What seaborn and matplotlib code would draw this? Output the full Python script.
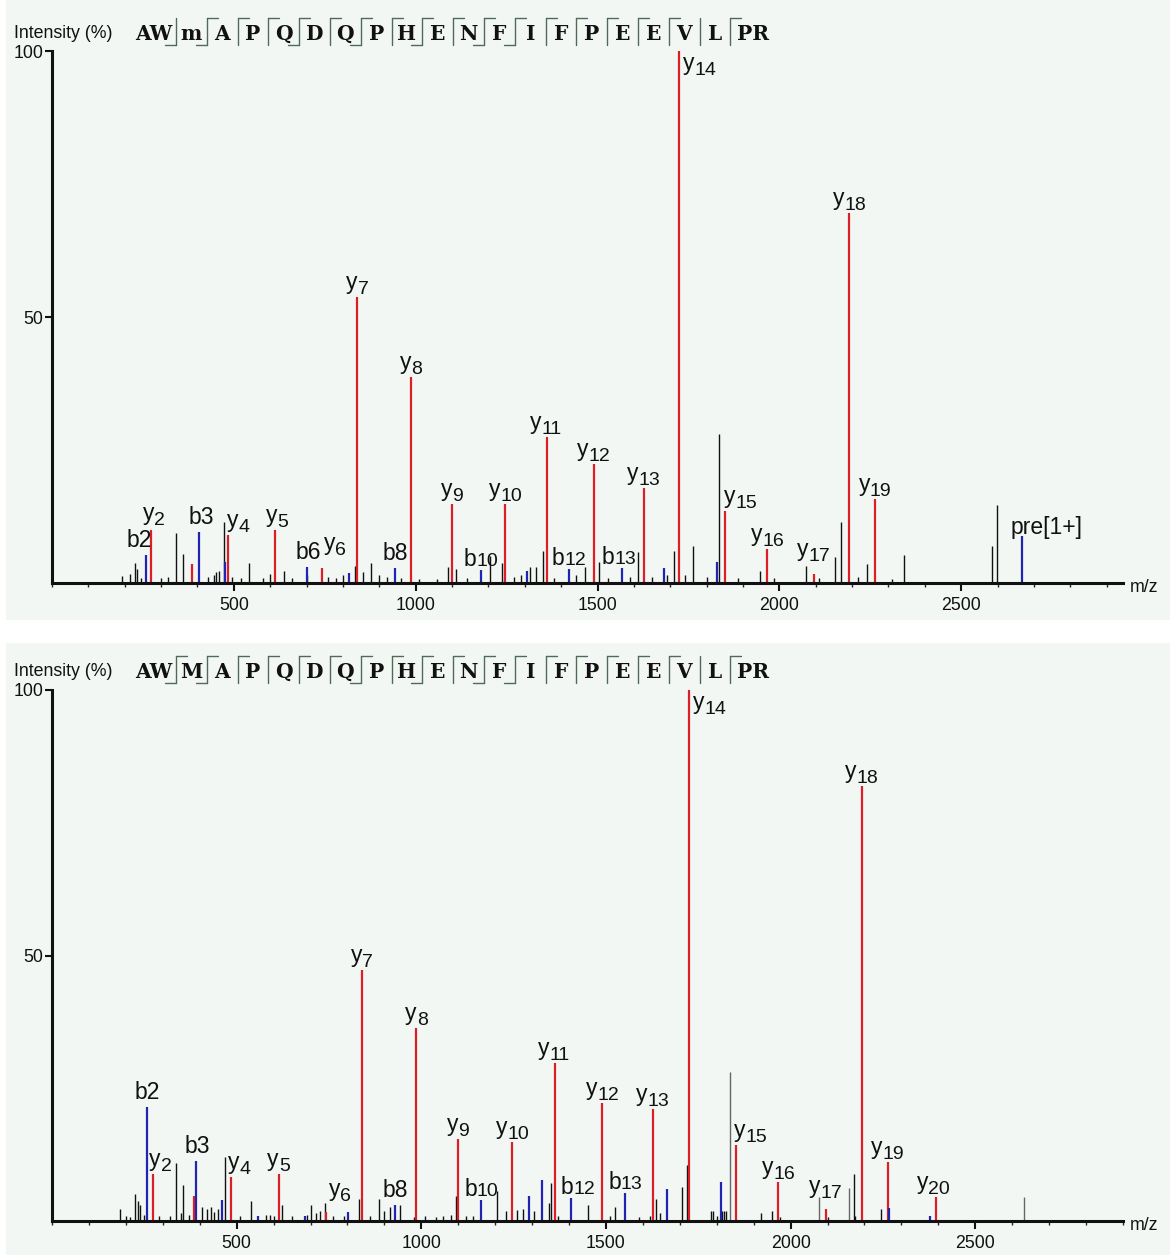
import numpy as np
import pandas as pd
import matplotlib
matplotlib.use("Agg")
import matplotlib.pyplot as plt
import seaborn as sns
from matplotlib.patches import Rectangle
from matplotlib.ticker import MultipleLocator

# ---- top spectrum : AWmAPQDQPHENFIFPEEVLPR (m = oxidised Met) ----
top_seq = ["AW", "m", "A", "P", "Q", "D", "Q", "P", "H", "E", "N", "F", "I", "F",
           "P", "E", "E", "V", "L", "PR"]

top_y_mz = [272.2, 385.3, 484.3, 613.4, 742.4, 839.5, 986.5, 1099.6, 1246.7, 1360.7,
            1489.8, 1626.8, 1723.9, 1851.9, 1967.0, 2095.0, 2192.1, 2263.1]
top_y_int = [10.0, 3.5, 9.0, 10.0, 2.8, 53.8, 38.7, 14.8, 14.8, 27.4,
             22.3, 17.9, 100.0, 13.6, 6.3, 1.6, 69.5, 15.8]
top_y_lab = ["y2", "", "y4", "y5", "y6", "y7", "y8", "y9", "y10", "y11",
             "y12", "y13", "y14", "y15", "y16", "y17", "y18", "y19"]

top_b_mz = [258.1, 405.2, 476.2, 701.3, 816.3, 944.4, 1178.5, 1307.5, 1421.6,
            1568.7, 1681.7, 1828.8, 2667.3]
top_b_int = [5.2, 9.5, 4.0, 3.0, 1.8, 2.9, 2.5, 2.3, 2.7, 2.9, 2.9, 3.9, 8.8]
top_b_lab = ["b2", "b3", "", "b6", "", "b8", "b10", "", "b12", "b13", "", "", "pre[1+]"]

top_other_mz = [193, 215, 228, 235, 245, 300, 320, 341, 361, 430, 445, 452, 458, 473,
                495, 520, 543, 580, 600, 637, 660, 700, 760, 780, 800, 833, 855, 877,
                900, 920, 960, 1010, 1060, 1089, 1110, 1140, 1204, 1238, 1270, 1290,
                1315, 1330, 1350, 1380, 1440, 1467, 1505, 1530, 1590, 1612, 1650, 1690,
                1709, 1740, 1762, 1800, 1833, 1885, 1948, 1985, 2072, 2110, 2152, 2169,
                2215, 2241, 2310, 2343, 2585, 2599]
top_other_int = [1.3, 1.6, 3.7, 2.6, 1.0, 1.0, 1.2, 9.4, 5.4, 1.2, 1.5, 2.0, 2.3, 11.4,
                 1.2, 1.0, 3.7, 1.0, 1.6, 2.3, 1.0, 1.5, 1.2, 1.0, 1.5, 3.2, 2.0, 3.7,
                 1.5, 1.2, 1.0, 0.8, 0.8, 3.0, 2.6, 1.0, 5.0, 3.7, 1.2, 1.5,
                 3.0, 3.0, 6.0, 1.0, 1.5, 3.0, 4.0, 1.0, 1.2, 5.8, 1.2, 1.5,
                 6.1, 1.5, 7.0, 1.2, 28.0, 1.0, 2.2, 1.0, 3.2, 1.0, 4.9, 11.4,
                 1.2, 3.6, 0.8, 5.2, 7.0, 14.7]

# ---- bottom spectrum : AWMAPQDQPHENFIFPEEVLPR ----
bot_seq = ["AW", "M", "A", "P", "Q", "D", "Q", "P", "H", "E", "N", "F", "I", "F",
           "P", "E", "E", "V", "L", "PR"]

bot_y_mz = [272.2, 385.3, 484.3, 613.4, 742.4, 839.5, 986.5, 1099.6, 1246.7, 1360.7,
            1489.8, 1626.8, 1723.9, 1851.9, 1967.0, 2095.0, 2192.1, 2263.1, 2394.2]
bot_y_int = [8.8, 4.7, 8.2, 8.8, 1.7, 47.3, 36.3, 15.5, 14.8, 29.8,
             22.2, 21.0, 100.0, 14.3, 7.3, 2.2, 82.0, 11.2, 4.5]
bot_y_lab = ["y2", "", "y4", "y5", "y6", "y7", "y8", "y9", "y10", "y11",
             "y12", "y13", "y14", "y15", "y16", "y17", "y18", "y19", "y20"]

bot_b_mz = [258.1, 389.2, 460.2, 557.3, 685.3, 800.3, 928.4, 1162.5, 1291.6, 1328.0,
            1405.6, 1552.7, 1665.7, 1812.8, 2266.0, 2377.0]
bot_b_int = [21.5, 11.3, 4.0, 1.0, 1.0, 1.7, 3.0, 4.0, 4.7, 7.8,
             4.4, 5.3, 6.0, 7.3, 2.4, 0.9]
bot_b_lab = ["b2", "b3", "", "", "", "", "b8", "b10", "", "", "b12", "b13", "", "", "", ""]

bot_other_mz = [184, 200, 210, 225, 232, 238, 250, 290, 320, 337, 350, 356, 370, 405,
                420, 430, 440, 450, 469, 510, 539, 580, 590, 600, 622, 650, 690, 700,
                715, 725, 739, 760, 790, 830, 860, 885, 900, 915, 941, 980, 1010, 1040,
                1060, 1080, 1093, 1120, 1140, 1205, 1230, 1260, 1275, 1305, 1345, 1350,
                1370, 1451, 1510, 1524, 1590, 1620, 1635, 1645, 1705, 1719, 1785, 1790,
                1800, 1815, 1820, 1826, 1919, 1949, 1972, 2100, 2171, 2175, 2244]
bot_other_int = [2.2, 1.0, 0.8, 5.0, 3.7, 3.0, 1.2, 1.0, 1.0, 11.0, 1.5, 6.8, 1.2, 2.7,
                 2.2, 2.6, 1.7, 2.2, 12.1, 1.0, 3.7, 1.2, 1.2, 1.0, 3.0, 1.0, 1.2, 3.0,
                 1.5, 1.8, 3.4, 1.0, 1.0, 4.2, 1.0, 4.2, 1.8, 2.6, 3.0, 0.8, 1.0, 0.8,
                 1.0, 1.2, 4.7, 1.0, 1.0, 5.7, 1.8, 2.0, 2.3, 1.8, 3.4, 7.2,
                 1.0, 3.0, 1.0, 2.7, 0.8, 1.0, 4.1, 1.5, 6.4, 10.6, 1.9, 1.9,
                 1.0, 1.9, 1.9, 1.9, 1.6, 1.9, 0.8, 0.8, 8.8, 1.0, 2.2]
bot_grey_mz = [1835, 2076, 2157, 2631]
bot_grey_int = [28.0, 4.5, 6.3, 4.5]

# label nudges in pixels (dx, dy) relative to the peak top
nudge_top = {"b2": (-7, 0), "y2": (3, 2), "b3": (2, 0), "y4": (10, 0), "y5": (2, 0),
             "b6": (1, 0), "y6": (13, 10), "y14": (21, -27), "y15": (15, 0),
             "y17": (0, 10), "b13": (-4, 0), "pre[1+]": (25, -6)}
nudge_bot = {"y2": (8, 0), "b3": (2, 0), "y4": (8, 0), "y6": (14, 8), "b12": (7, 0),
             "y14": (21, -27), "y15": (15, 0), "y17": (0, 8), "y20": (-3, 0)}

RED = "#dc1f26"
BLUE = "#2124b0"
MINT = "#f2f7f4"
BRACKET = "#4f6a58"
INK = "#111111"
FS = 16.5      # ion letter size
FS_SUB = 14    # ion number size

sns.set_theme(style="ticks")
plt.rcParams["font.family"] = ["Liberation Sans", "DejaVu Sans"]

fig = plt.figure(figsize=(11.7, 12.55), dpi=100)
fig.patch.set_facecolor("white")

# background / header layer in pixel coordinates
bg = fig.add_axes([0, 0, 1, 1], zorder=0)
bg.set_xlim(0, 1170)
bg.set_ylim(1255, 0)
bg.axis("off")
bg.add_patch(Rectangle((6, 0), 1164, 620, color=MINT, lw=0))
bg.add_patch(Rectangle((6, 643), 1164, 612, color=MINT, lw=0))


def header(seq, labels, yoff):
    n_res = 22
    step = 30.8
    sep_x = [176 + step * i for i in range(len(seq) - 1)]
    for i, g in enumerate(seq):
        if i == 0:
            cx = sep_x[0] - 22
        elif i == len(seq) - 1:
            cx = sep_x[-1] + 23
        else:
            cx = sep_x[i - 1] + step / 2
        bg.text(cx, 40 + yoff, g, family="DejaVu Serif", weight="bold",
                fontsize=14.5, ha="center", va="baseline", color=INK)
    for i, x in enumerate(sep_x):
        k = 2 + i
        bg.plot([x, x], [18 + yoff, 45 + yoff], color=BRACKET, lw=1.0)
        if "y%d" % (n_res - k) in labels:
            bg.plot([x, x + 11], [18 + yoff, 18 + yoff], color=BRACKET, lw=1.0)
        if "b%d" % k in labels:
            bg.plot([x - 11, x], [45 + yoff, 45 + yoff], color=BRACKET, lw=1.0)
    bg.text(14, 34 + yoff, "Intensity (%)", fontsize=12.8, ha="left", va="center",
            color=INK)


def ion_label(ax, m, h, lab, dx, dy):
    px = 100 / 72
    if lab.startswith("y"):
        num = lab[1:]
        w1 = 0.5 * FS * px
        w2 = 0.556 * FS_SUB * px * len(num)
        left = dx - (w1 + w2) / 2
        ax.annotate("y", (m, h), xytext=(left, 8 + dy), textcoords="offset pixels",
                    ha="left", va="baseline", fontsize=FS, color=INK,
                    annotation_clip=False)
        ax.annotate(num, (m, h), xytext=(left + w1, 3 + dy), textcoords="offset pixels",
                    ha="left", va="baseline", fontsize=FS_SUB, color=INK,
                    annotation_clip=False)
    elif lab.startswith("b") and len(lab) > 2:
        num = lab[1:]
        w1 = 0.556 * FS * px
        w2 = 0.556 * 14 * px * len(num)
        left = dx - (w1 + w2) / 2
        ax.annotate("b", (m, h), xytext=(left, 4 + dy), textcoords="offset pixels",
                    ha="left", va="baseline", fontsize=FS, color=INK,
                    annotation_clip=False)
        ax.annotate(num, (m, h), xytext=(left + w1, 4 + dy), textcoords="offset pixels",
                    ha="left", va="baseline", fontsize=14, color=INK,
                    annotation_clip=False)
    else:
        ax.annotate(lab, (m, h), xytext=(dx, 3 + dy), textcoords="offset pixels",
                    ha="center", va="bottom", fontsize=FS, color=INK,
                    annotation_clip=False)


def panel(rect, xmax, others, ions, nudges, yoff):
    ax = fig.add_axes(rect, zorder=1)
    ax.set_facecolor("none")
    for mz, it, col in others:
        ax.vlines(mz, 0, it, color=col, lw=1.0, clip_on=False)
    for mz, it, lab, col in ions:
        ax.vlines(mz, 0, it, color=col, lw=1.6, clip_on=False)
        for m, h, l in zip(mz, it, lab):
            if l:
                dx, dy = nudges.get(l, (0, 0))
                ion_label(ax, m, h, l, dx, dy)
    ax.set_xlim(0, xmax)
    ax.set_ylim(0, 100)
    ax.set_xticks([500, 1000, 1500, 2000, 2500])
    ax.xaxis.set_minor_locator(MultipleLocator(100))
    ax.set_yticks([50, 100])
    ax.tick_params(axis="both", which="major", direction="out", length=6, width=1.5,
                   labelsize=12.8, colors=INK, pad=4)
    ax.tick_params(axis="x", which="minor", direction="out", length=3, width=1.0)
    ax.tick_params(axis="y", which="major", length=5, pad=1)
    sns.despine(ax=ax)
    for s in ["left", "bottom"]:
        ax.spines[s].set_linewidth(2.2)
        ax.spines[s].set_color(INK)
    ax.grid(False)
    bg.text(1130, 588 + yoff, "m/z", fontsize=12.8, ha="left", va="center", color=INK)
    return ax


header(top_seq, top_y_lab + top_b_lab, 0)
header(bot_seq, bot_y_lab + bot_b_lab, 638)

panel([52 / 1170, (1255 - 583) / 1255, (1123 - 52) / 1170, (583 - 51) / 1255], 2945,
      [(top_other_mz, top_other_int, INK)],
      [(top_y_mz, top_y_int, top_y_lab, RED), (top_b_mz, top_b_int, top_b_lab, BLUE)],
      nudge_top, 0)
panel([52 / 1170, (1255 - 1221) / 1255, (1123 - 52) / 1170, (1221 - 690) / 1255], 2900,
      [(bot_other_mz, bot_other_int, INK), (bot_grey_mz, bot_grey_int, "#666666")],
      [(bot_y_mz, bot_y_int, bot_y_lab, RED), (bot_b_mz, bot_b_int, bot_b_lab, BLUE)],
      nudge_bot, 638)

fig.savefig("out.png", dpi=100, facecolor="white")
